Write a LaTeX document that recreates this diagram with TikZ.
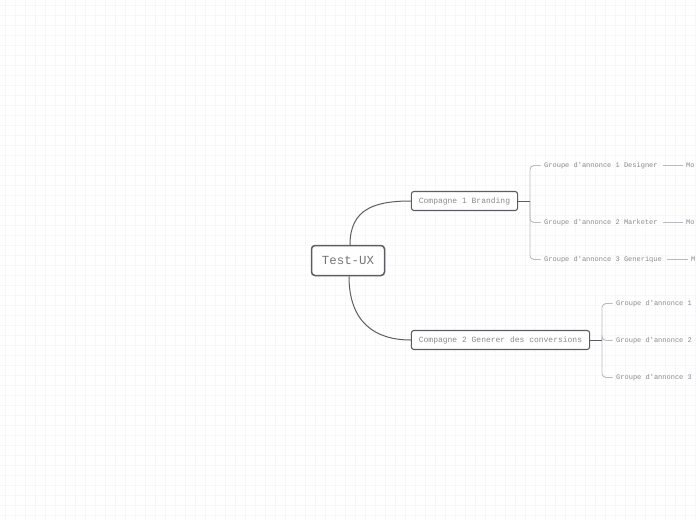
\documentclass[tikz,border=0pt]{standalone}
\usepackage{fontspec}
\setmonofont{Liberation Mono}
\usepackage{xcolor}
\usetikzlibrary{positioning,calc}
\definecolor{linedark}{HTML}{5A5E63}
\definecolor{linelight}{HTML}{B8BCC0}
\definecolor{txtgray}{HTML}{8A8A8A}
\definecolor{gridgray}{HTML}{F6F7F8}

\begin{document}
\begin{tikzpicture}[x=1pt,y=-1pt,
    rootbox/.style={draw=linedark,line width=1.5pt,rounded corners=3.5pt,fill=white,
      minimum width=73pt,minimum height=30pt,font=\ttfamily\fontsize{12.4}{14}\selectfont,text=txtgray!85!black},
    campbox/.style={draw=linedark,line width=1.1pt,rounded corners=2.5pt,fill=white,
      minimum height=19pt,inner xsep=7.5pt,font=\ttfamily\fontsize{8}{9}\selectfont,text=txtgray},
    leaf/.style={inner sep=1pt,font=\ttfamily\fontsize{7}{8}\selectfont,text=txtgray},
    mainline/.style={draw=linedark,line width=1pt},
    subline/.style={draw=linelight,line width=0.9pt,rounded corners=4pt},
    gridline/.style={draw=gridgray,line width=0.8pt}]
    \useasboundingbox (0,0) rectangle (696,520);
    \clip (0,0) rectangle (696,520);
    % Background grid
    \foreach \x in {5,15,...,695} \draw[gridline] (\x,0) -- (\x,520);
    \foreach \y in {5,15,...,515} \draw[gridline] (0,\y) -- (696,\y);
    % Root and campaigns
    \node[rootbox] (root) at (348,260.5) {Test-UX};
    \node[campbox] (camp1) at (464.5,201) {Compagne 1 Branding};
    \node[campbox] (camp2) at (500.5,340) {Compagne 2 Generer des conversions};
    \draw[mainline] ([xshift=2pt]root.north) .. controls +(0,-36) and +(-36,0) .. (camp1.west);
    \draw[mainline] ([xshift=1pt]root.south) .. controls +(0,46) and +(-36,0) .. (camp2.west);
    % Ad groups of campaign 1
    \coordinate (hub1) at (530,201);
    \node[leaf, anchor=west] (grp11) at (543,165.5) {Groupe d'annonce 1 Designer};
    \node[leaf, anchor=west] (grp12) at (543,222.5) {Groupe d'annonce 2 Marketer};
    \node[leaf, anchor=west] (grp13) at (543,259.5) {Groupe d'annonce 3 Generique};
    \node[leaf, anchor=west] (mot11) at (685,165.5) {Mo};
    \node[leaf, anchor=west] (mot12) at (685,222.5) {Mo};
    \node[leaf, anchor=west] (mot13) at (690,259.5) {M};
    \foreach \g in {grp11,grp12,grp13}
      \draw[subline, shorten >=2.5pt] (hub1) |- (\g.west);
    \draw[mainline] (camp1.east) -- (hub1);
    \draw[subline, shorten <=4pt, shorten >=2pt] (grp11.east) -- (mot11.west);
    \draw[subline, shorten <=4pt, shorten >=2pt] (grp12.east) -- (mot12.west);
    \draw[subline, shorten <=4pt, shorten >=2pt] (grp13.east) -- (mot13.west);
    % Ad groups of campaign 2
    \coordinate (hub2) at (602,340);
    \node[leaf, anchor=west] (grp21) at (615,303.5) {Groupe d'annonce 1};
    \node[leaf, anchor=west] (grp22) at (615,340.5) {Groupe d'annonce 2};
    \node[leaf, anchor=west] (grp23) at (615,377.5) {Groupe d'annonce 3};
    \foreach \g in {grp21,grp22,grp23}
      \draw[subline, shorten >=2.5pt] (hub2) |- (\g.west);
    \draw[mainline] (camp2.east) -- (hub2);
\end{tikzpicture}
\end{document}
